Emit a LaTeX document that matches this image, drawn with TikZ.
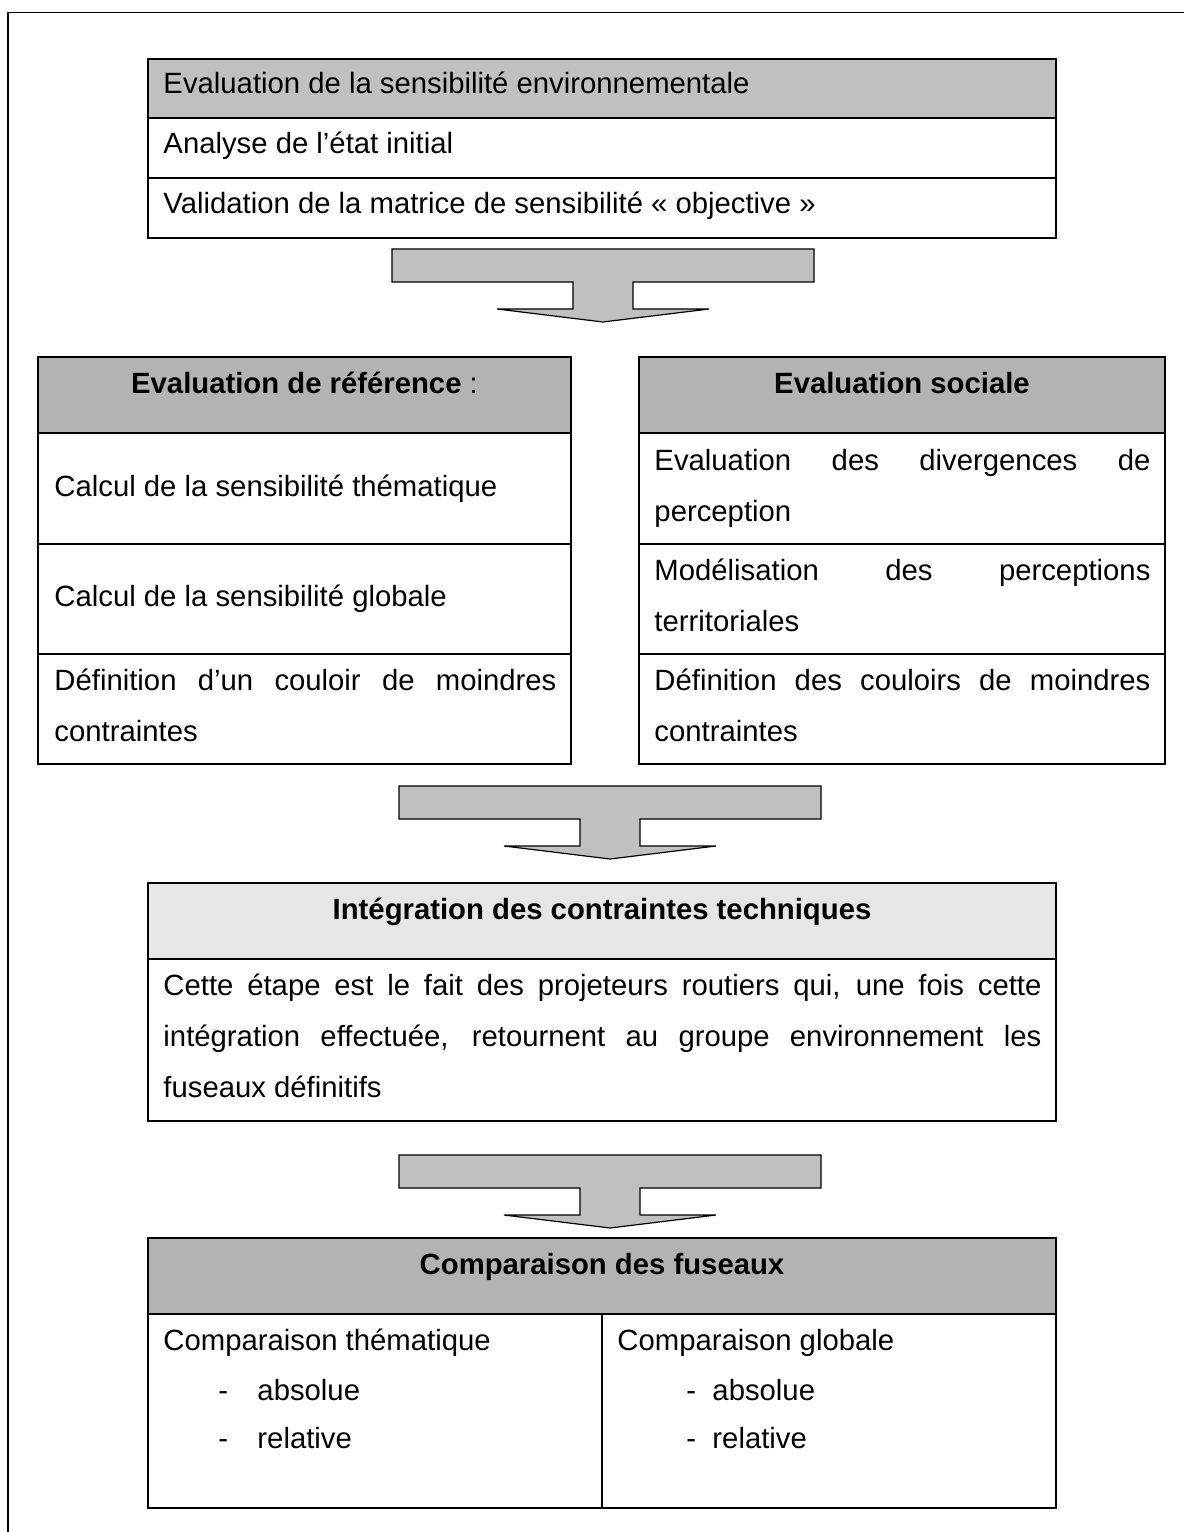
\documentclass[tikz,border=0pt]{standalone}
\usepackage{fontspec}
\setmainfont{Liberation Sans}
\usepackage{tikz}

\definecolor{headgray}{HTML}{C0C0C0}
\definecolor{evalgray}{HTML}{B3B3B3}
\definecolor{integgray}{HTML}{E6E6E6}
\newdimen\pxu \pxu=0.42pt

\begin{document}
\begin{tikzpicture}[x=0.42pt, y=-0.42pt, font=\fontsize{12.3}{14}\selectfont,
  cell/.style={line width=0.75pt},
  lbl/.style={anchor=base west, inner sep=0pt},
  headlbl/.style={anchor=base, inner sep=0pt, font=\fontsize{12.3}{14}\selectfont\bfseries},
  blockarrow/.style={fill=headgray, draw=black, line width=0.5pt}]
\useasboundingbox (0,0) rectangle (1184,1532);

% Draw outer frame
\draw[line width=0.8pt] (8,1532) -- (8,12.5) -- (1184,12.5);

% Sensibilite environnementale
\filldraw[fill=headgray, cell] (148,59) rectangle (1056,118);
\draw[cell] (148,118) rectangle (1056,238);
\draw[cell] (148,178) -- (1056,178);
\node[lbl] (senshead) at (163,94) {Evaluation de la sensibilité environnementale};
\node[lbl] (etat) at (163,154) {Analyse de l’état initial};
\node[lbl] (matrice) at (163,214) {Validation de la matrice de sensibilité « objective »};

% Block arrows
\foreach \ax/\ay in {392/249, 399/786, 399/1155}
  \filldraw[blockarrow] (\ax,\ay) -- ++(422,0) -- ++(0,33) -- ++(-181,0) -- ++(0,27)
    -- ++(76,0) -- ++(-106,13) -- ++(-106,-13) -- ++(76,0) -- ++(0,-27) -- ++(-181,0) -- cycle;

% Evaluation de reference
\filldraw[fill=evalgray, cell] (38,357) rectangle (571,433);
\draw[cell] (38,433) rectangle (571,764);
\draw[cell] (38,544) -- (571,544);
\draw[cell] (38,654) -- (571,654);
\node[headlbl] (refhead) at (304.5,394) {Evaluation de référence \textmd{:}};
\node[lbl] (calcthem) at (54,496) {Calcul de la sensibilité thématique};
\node[lbl] (calcglob) at (54,606) {Calcul de la sensibilité globale};
\node[lbl] (couloir) at (54,690) {\makebox[502\pxu][s]{Définition d’un couloir de moindres}};
\node[lbl] (couloirb) at (54,741) {contraintes};

% Evaluation sociale
\filldraw[fill=evalgray, cell] (639,357) rectangle (1165,433);
\draw[cell] (639,433) rectangle (1165,764);
\draw[cell] (639,544) -- (1165,544);
\draw[cell] (639,654) -- (1165,654);
\node[headlbl] (sochead) at (902,394) {Evaluation sociale};
\node[lbl] (diverg) at (654,470) {\makebox[496\pxu][s]{Evaluation des divergences de}};
\node[lbl] (divergb) at (654,521) {perception};
\node[lbl] (modeli) at (654,580) {\makebox[496\pxu][s]{Modélisation des perceptions}};
\node[lbl] (modelib) at (654,631) {territoriales};
\node[lbl] (couloirs) at (654,690) {\makebox[496\pxu][s]{Définition des couloirs de moindres}};
\node[lbl] (couloirsb) at (654,741) {contraintes};

% Integration des contraintes
\filldraw[fill=integgray, cell] (148,883) rectangle (1056,959);
\draw[cell] (148,959) rectangle (1056,1121);
\node[headlbl] (inthead) at (602,919) {Intégration des contraintes techniques};
\node[lbl] (etape) at (163,995) {\makebox[878\pxu][s]{Cette étape est le fait des projeteurs routiers qui, une fois cette}};
\node[lbl] (etapeb) at (163,1046) {\makebox[878\pxu][s]{intégration effectuée, retournent au groupe environnement les}};
\node[lbl] (etapec) at (163,1097) {fuseaux définitifs};

% Comparaison des fuseaux
\filldraw[fill=evalgray, cell] (148,1238) rectangle (1056,1314);
\draw[cell] (148,1314) rectangle (1056,1508);
\draw[cell] (602,1314) -- (602,1508);
\node[headlbl] (comphead) at (602,1274) {Comparaison des fuseaux};
\node[lbl] (compthem) at (163,1350) {Comparaison thématique};
\node[lbl] (dashta) at (218,1400) {-};
\node[lbl] (absta) at (257,1400) {absolue};
\node[lbl] (dashtr) at (218,1448) {-};
\node[lbl] (relta) at (257,1448) {relative};
\node[lbl] (compglob) at (617,1350) {Comparaison globale};
\node[lbl] (dashga) at (686,1400) {-};
\node[lbl] (absga) at (712,1400) {absolue};
\node[lbl] (dashgr) at (686,1448) {-};
\node[lbl] (relga) at (712,1448) {relative};
\end{tikzpicture}
\end{document}
